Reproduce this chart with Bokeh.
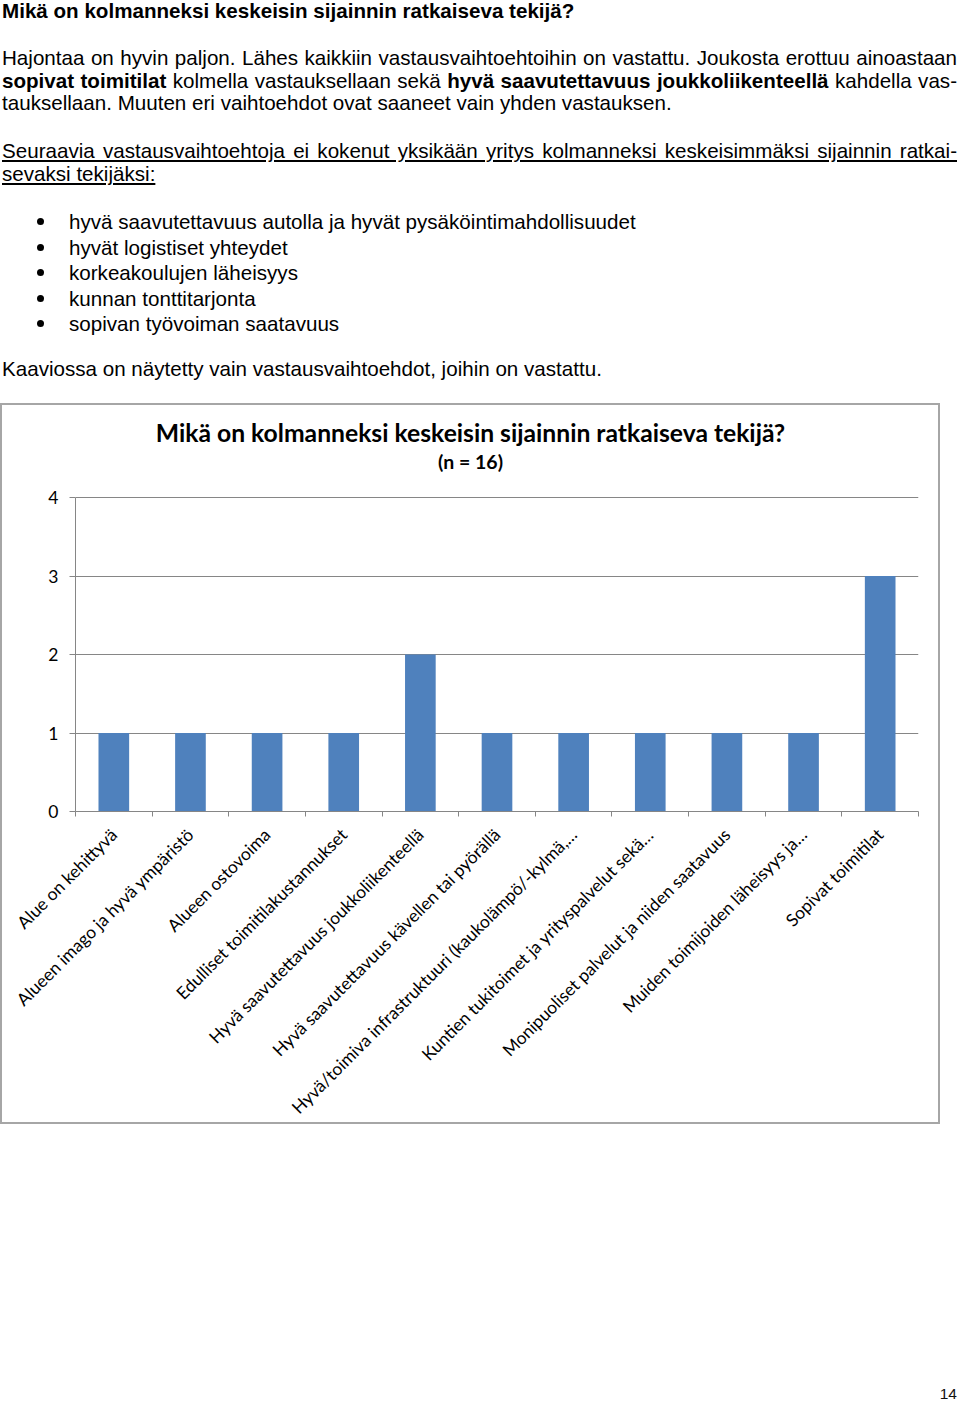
import math
from bokeh.plotting import figure
from bokeh.models import Range1d, FixedTicker, Div
from bokeh.layouts import column
from bokeh.core.properties import value
from bokeh.embed import file_html
from bokeh.resources import INLINE

# ---------------- data ----------------
categories = [
    "Alue on kehittyvä",
    "Alueen imago ja hyvä ympäristö",
    "Alueen ostovoima",
    "Edulliset toimitilakustannukset",
    "Hyvä saavutettavuus joukkoliikenteellä",
    "Hyvä saavutettavuus kävellen tai pyörällä",
    "Hyvä/toimiva infrastruktuuri (kaukolämpö/-kylmä,…",
    "Kuntien tukitoimet ja yrityspalvelut sekä…",
    "Monipuoliset palvelut ja niiden saatavuus",
    "Muiden toimijoiden läheisyys ja…",
    "Sopivat toimitilat",
]
counts = [1, 1, 1, 1, 2, 1, 1, 1, 1, 1, 3]
y_ticks = [0, 1, 2, 3, 4]
chart_title = "Mikä on kolmanneksi keskeisin sijainnin ratkaiseva tekijä?"
chart_subtitle = "(n = 16)"

page_heading = "Mikä on kolmanneksi keskeisin sijainnin ratkaiseva tekijä?"
para1_lines = [
    "Hajontaa on hyvin paljon. Lähes kaikkiin vastausvaihtoehtoihin on vastattu. Joukosta erottuu ainoastaan",
    "<b>sopivat toimitilat</b> kolmella vastauksellaan sekä <b>hyvä saavutettavuus joukkoliikenteellä</b> kahdella vas-",
    "tauksellaan. Muuten eri vaihtoehdot ovat saaneet vain yhden vastauksen.",
]
para2_lines = [
    "Seuraavia vastausvaihtoehtoja ei kokenut yksikään yritys kolmanneksi keskeisimmäksi sijainnin ratkai-",
    "sevaksi tekijäksi:",
]
bullets = [
    "hyvä saavutettavuus autolla ja hyvät pysäköintimahdollisuudet",
    "hyvät logistiset yhteydet",
    "korkeakoulujen läheisyys",
    "kunnan tonttitarjonta",
    "sopivan työvoiman saatavuus",
]
closing_line = "Kaaviossa on näytetty vain vastausvaihtoehdot, joihin on vastattu."
page_number = "14"

# ---------------- page text ----------------
FONT = "'Liberation Sans', Arial, Helvetica, sans-serif"


def line(top, html, left=2, extra=""):
    return (f'<div style="position:absolute;left:{left}px;top:{top}px;line-height:23px;'
            f'white-space:nowrap;{extra}">{html}</div>')


JUST = "width:955px;text-align:justify;text-align-last:justify;"
parts = [line(-0.6, page_heading, extra="font-weight:bold;")]
for top, txt, just in zip([46.4, 68.9, 91.4], para1_lines, [True, True, False]):
    parts.append(line(top, txt, extra=JUST if just else ""))
for top, txt, just in zip([138.9, 162.4], para2_lines, [True, False]):
    parts.append(line(top, txt, extra=("text-decoration:underline;" + (JUST if just else ""))))
for i, txt in enumerate(bullets):
    top = 210.0 + i * 25.5
    dot_top = top + 8.3
    parts.append(f'<div style="position:absolute;left:36.5px;top:{dot_top}px;width:7px;height:7px;'
                 f'border-radius:50%;background:#000;"></div>')
    parts.append(line(top, txt, left=69))
parts.append(line(357.0, closing_line))

TOP_H = 403
top_html = (f'<div style="position:relative;width:960px;height:{TOP_H}px;overflow:visible;'
            f'font-family:{FONT};font-size:20.6px;color:#000;">' + "".join(parts) + "</div>")
top_div = Div(text=top_html, width=960, height=TOP_H, margin=0)

# ---------------- chart geometry ----------------
FIG_W, FIG_H = 940, 729          # canvas; the drawn chart box is 721 px tall
BOX_H = 721
MB_LEFT, MB_RIGHT, MB_TOP, MB_BOTTOM = 75, 22, 0, 321
frame_w = FIG_W - MB_LEFT - MB_RIGHT          # 843
frame_h = FIG_H - MB_TOP - MB_BOTTOM          # 408
axis_px = 314                                  # pixel height of the value axis (0..4)
px_per_unit_y = axis_px / (y_ticks[-1] - y_ticks[0])
px_per_unit_x = frame_w / len(categories)
y_top = y_ticks[0] + frame_h / px_per_unit_y


def px_to_x(px):   # canvas px -> data x
    return (px - MB_LEFT) / px_per_unit_x


def px_to_y(py):   # canvas px (from top) -> data y
    return (FIG_H - MB_BOTTOM - py) / px_per_unit_y


BORDER = "#a6a6a6"
cut = FIG_H - BOX_H                    # canvas rows below the chart box
shadow = ", ".join([
    f"inset 0 -{cut}px 0 0 #ffffff",
    f"inset 2px 0 0 0 {BORDER}",
    f"inset -2px 0 0 0 {BORDER}",
    f"inset 0 2px 0 0 {BORDER}",
    f"inset 0 -{cut + 2}px 0 0 {BORDER}",
])

centers = [i + 0.5 for i in range(len(categories))]
bounds = list(range(len(categories) + 1))

p = figure(width=FIG_W, height=FIG_H,
           x_range=Range1d(0, len(categories)), y_range=Range1d(y_ticks[0], y_top),
           output_backend="svg", toolbar_location=None, tools="",
           min_border_left=MB_LEFT, min_border_right=MB_RIGHT,
           min_border_top=MB_TOP, min_border_bottom=MB_BOTTOM,
           styles={"box-shadow": shadow})
p.outline_line_color = None
p.background_fill_color = None
p.border_fill_color = None

p.vbar(x=centers, top=counts, width=0.4, fill_color="#4F81BD", line_color=None)

GRID = "#868686"
p.xgrid.visible = False
p.ygrid.grid_line_color = GRID
p.ygrid.grid_line_width = 1
p.ygrid.ticker = FixedTicker(ticks=y_ticks)

yax = p.yaxis[0]
yax.ticker = FixedTicker(ticks=y_ticks)
yax.bounds = (y_ticks[0], y_ticks[-1])
yax.axis_line_color = GRID
yax.major_tick_line_color = GRID
yax.major_tick_out = 6
yax.major_tick_in = 0
yax.minor_tick_line_color = None
yax.major_label_text_font = "Lato"
yax.major_label_text_font_size = "17.5px"
yax.major_label_text_color = "#000000"
yax.major_label_standoff = 11

xax = p.xaxis[0]
xax.ticker = FixedTicker(ticks=centers, minor_ticks=bounds)
xax.major_label_overrides = {c: lab for c, lab in zip(centers, categories)}
xax.axis_line_color = GRID
xax.major_tick_line_color = None
xax.major_tick_out = 0
xax.major_tick_in = 0
xax.minor_tick_line_color = GRID
xax.minor_tick_out = 5
xax.minor_tick_in = 0
xax.major_label_orientation = math.pi / 4
xax.major_label_text_font = "Lato"
xax.major_label_text_font_size = "17.4px"
xax.major_label_text_color = "#000000"
xax.major_label_standoff = 15

# chart title and subtitle (centered on the chart box)
title_cx = px_to_x(FIG_W / 2)
p.text(x=[title_cx], y=[px_to_y(432 - TOP_H)], text=[chart_title],
       text_align="center", text_baseline="alphabetic", text_font=value("Lato"),
       text_font_style="bold", text_font_size="24.7px", text_color="#000000")
p.text(x=[title_cx], y=[px_to_y(461 - TOP_H)], text=[chart_subtitle],
       text_align="center", text_baseline="alphabetic", text_font=value("Lato"),
       text_font_style="bold", text_font_size="19.5px", text_color="#000000")

BOTTOM_H = 1402 - TOP_H - FIG_H
bottom_html = (f'<div style="position:relative;width:960px;height:{BOTTOM_H}px;font-family:{FONT};'
               f'font-size:15.5px;color:#111;">'
               f'<div style="position:absolute;right:3px;top:{1385 - TOP_H - FIG_H}px;line-height:17px;">'
               f'{page_number}</div></div>')
bottom_div = Div(text=bottom_html, width=960, height=BOTTOM_H, margin=0)

layout = column(top_div, p, bottom_div, spacing=0)

with open("out.html", "w") as f:
    f.write(file_html(layout, INLINE))
